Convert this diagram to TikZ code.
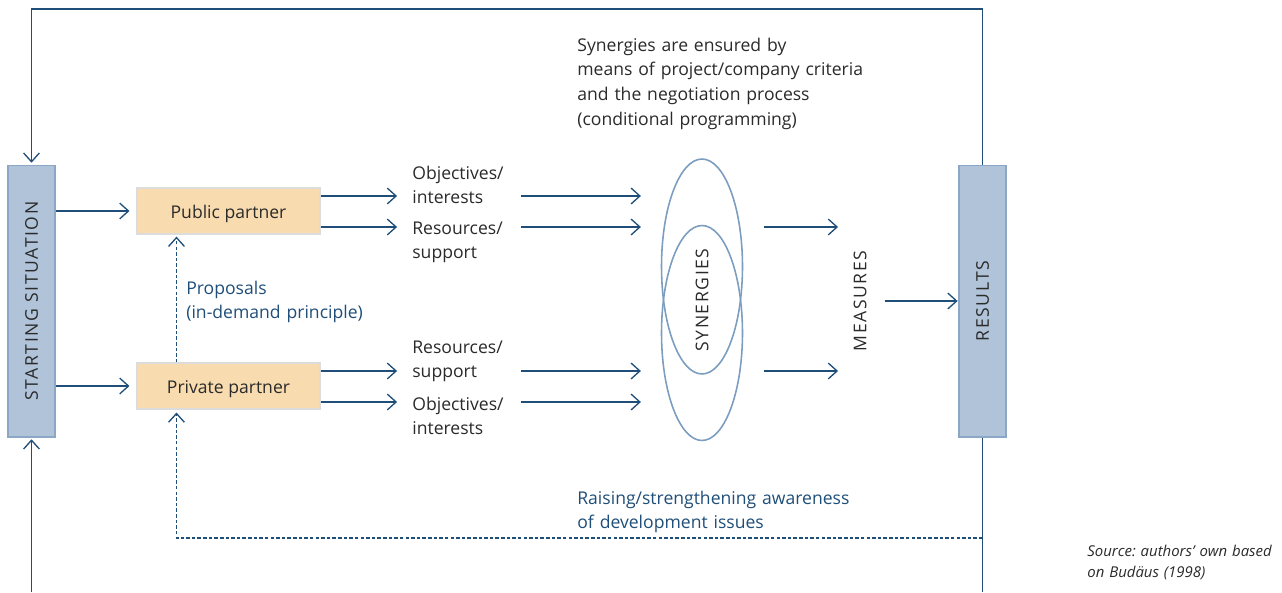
\documentclass[tikz,border=0pt]{standalone}
\usepackage{fontspec}
\setmainfont{Open Sans}
\usepackage{tikz}
\usetikzlibrary{arrows.meta,shapes.geometric,positioning}
\frenchspacing

\definecolor{linkblue}{HTML}{1F4E79}
\definecolor{textgray}{HTML}{2A2A2A}
\definecolor{barfill}{HTML}{B0C3D9}
\definecolor{bardraw}{HTML}{8CA7C5}
\definecolor{partnerfill}{HTML}{F8DCB0}
\definecolor{partnerdraw}{HTML}{DCDCDC}
\definecolor{synblue}{HTML}{7B9DC0}

\tikzset{
  bar/.style={draw=bardraw, fill=barfill, line width=0.6pt, minimum width=0.94cm, minimum height=5.44cm, inner sep=0pt},
  partner/.style={draw=partnerdraw, fill=partnerfill, line width=0.6pt, minimum width=3.66cm, minimum height=0.92cm, inner sep=0pt, text height=9pt, text depth=0pt, text=textgray, font=\fontsize{10}{14.2}\selectfont},
  syn/.style={ellipse, draw=synblue, line width=0.9pt, minimum width=1.62cm, minimum height=4.3cm, inner sep=0pt},
  lbl/.style={text=textgray, align=left, anchor=base west, inner sep=0pt, font=\fontsize{10}{14.2}\selectfont},
  note/.style={lbl, text=linkblue},
  caps/.style={text=textgray, rotate=90, inner sep=0pt, font=\fontsize{10}{12}\selectfont\addfontfeature{LetterSpace=9}},
  flow/.style={draw=linkblue, line width=0.75pt, -{Straight Barb[length=5pt,width=9pt]}},
  feed/.style={flow, dash pattern=on 2pt off 1.2pt},
}

\begin{document}
\begin{tikzpicture}[x=0.02cm, y=-0.02cm]
    \useasboundingbox (0,0) rectangle (1282,592);
    %boxes
    \node[bar] (startbox) at (31.5,301) {};
    \node[bar] (resbox) at (982.5,301) {};
    \node[caps] (startlbl) at (startbox) {STARTING SITUATION};
    \node[caps] (reslbl) at (resbox) {RESULTS};
    \node[partner] (pub) at (228.5,211) {Public partner};
    \node[partner] (priv) at (228.5,386) {Private partner};
    %synergies
    \node[syn] (synA) at (702,266.5) {};
    \node[syn] (synB) at (702,333) {};
    \node[caps] (synlbl) at (702,300) {SYNERGIES};
    \node[caps] (meas) at (860,301) {MEASURES};
    %labels
    \node[lbl, text width=2.16cm] (objA) at (412,179) {Objectives/\\interests};
    \node[lbl, text width=2.16cm] (resA) at (412,234) {Resources/\\support};
    \node[lbl, text width=2.16cm] (resB) at (412,353) {Resources/\\support};
    \node[lbl, text width=2.16cm] (objB) at (412,410) {Objectives/\\interests};
    \node[lbl, text width=6cm] (crit) at (577,51) {Synergies are ensured by\\means of project/company criteria\\and the negotiation process\\(conditional programming)};
    \node[note, text width=4cm] (prop) at (186,294) {Proposals\\(in-demand principle)};
    \node[note, text width=6cm] (aware) at (577,504) {Raising/strengthening awareness\\of development issues};
    \node[lbl, text width=4cm, font=\fontsize{8.5}{12.5}\selectfont\itshape] (src) at (1087,556) {Source: authors' own based\\on Budäus (1998)};
    %rows
    \coordinate (r1) at (0,196);
    \coordinate (r2) at (0,227);
    \coordinate (r3) at (0,371);
    \coordinate (r4) at (0,402);
    \coordinate (topR) at (982.5,9);
    \coordinate (topL) at (31.5,9);
    \coordinate (botL) at (31.5,592);
    \coordinate (botR) at (982.5,592);
    \coordinate (fbR) at (982.5,538);
    %edges
    \draw[flow, shorten >=1pt] (resbox.north) -- (topR) -- (topL) -- (startbox.north);
    \draw[flow, shorten >=1pt] (botL) -- (startbox.south);
    \draw[draw=linkblue, line width=0.75pt] (resbox.south) -- (botR);
    \draw[flow, shorten >=4pt] (startbox.east |- pub.west) -- (pub.west);
    \draw[flow, shorten >=4pt] (startbox.east |- priv.west) -- (priv.west);
    \draw[flow, shorten >=8.5pt] (pub.east |- r1) -- (objA.west |- r1);
    \draw[flow, shorten >=8.5pt] (pub.east |- r2) -- (resA.west |- r2);
    \draw[flow, shorten >=8.5pt] (priv.east |- r3) -- (resB.west |- r3);
    \draw[flow, shorten >=8.5pt] (priv.east |- r4) -- (objB.west |- r4);
    \draw[flow, shorten >=11.3pt] (objA.east |- r1) -- (synA.west |- r1);
    \draw[flow, shorten >=11.3pt] (resA.east |- r2) -- (synA.west |- r2);
    \draw[flow, shorten >=11.3pt] (resB.east |- r3) -- (synB.west |- r3);
    \draw[flow, shorten >=11.3pt] (objB.east |- r4) -- (synB.west |- r4);
    \draw[flow, shorten <=11.9pt, shorten >=12.5pt] (synA.east |- r2) -- (meas |- r2);
    \draw[flow, shorten <=11.9pt, shorten >=12.5pt] (synB.east |- r3) -- (meas |- r3);
    \draw[flow, shorten <=10.2pt, shorten >=0.5pt] (meas) -- (resbox);
    \draw[feed, shorten >=1.7pt] (fbR) -| ([xshift=0.8cm]priv.south west);
    \draw[feed, shorten >=1.2pt] ([xshift=0.8cm]priv.north west) -- ([xshift=0.8cm]pub.south west);
\end{tikzpicture}
\end{document}
